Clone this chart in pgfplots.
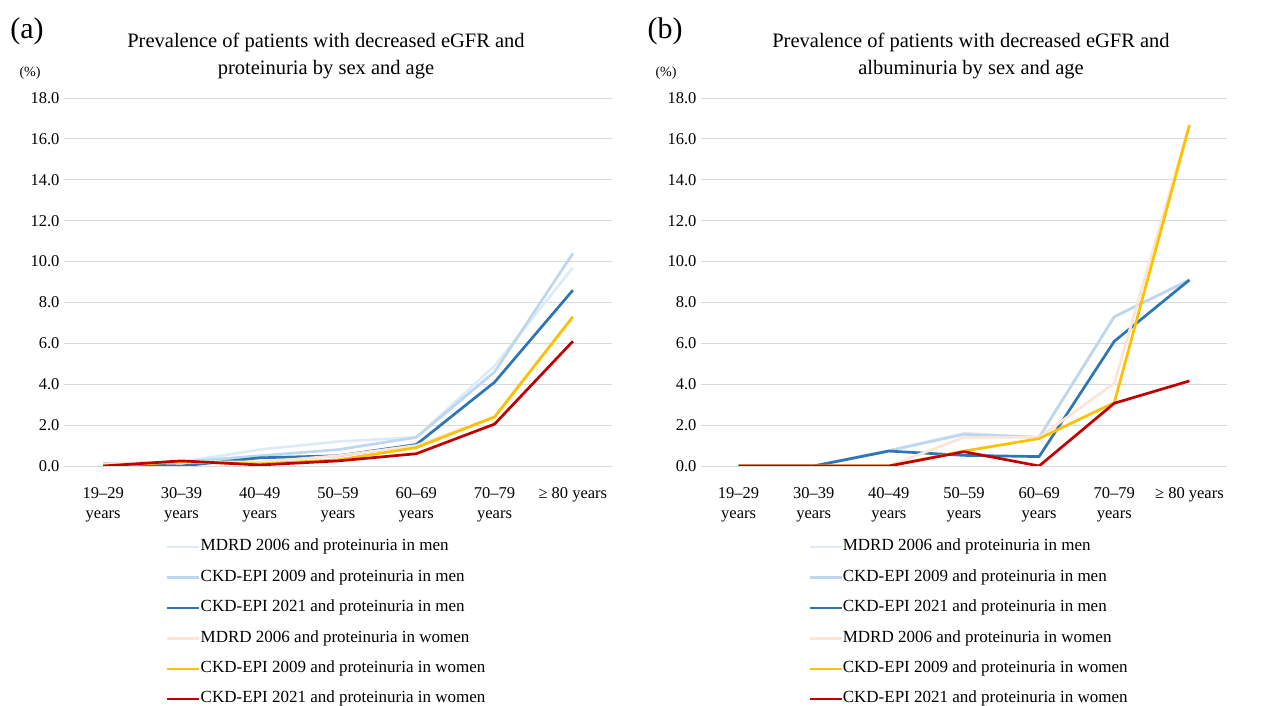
\documentclass[border=0pt]{standalone}
\usepackage{pgfplots}
\pgfplotsset{compat=1.18}
\usepackage{fontspec}
\setmainfont{Liberation Serif}
\definecolor{c1}{HTML}{DEEBF7}
\definecolor{c2}{HTML}{BDD7EE}
\definecolor{c3}{HTML}{2E75B6}
\definecolor{c4}{HTML}{FBE5D6}
\definecolor{c5}{HTML}{FFC000}
\definecolor{c6}{HTML}{C00000}
\definecolor{gridc}{HTML}{D9D9D9}
\pgfplotsset{
  panel/.style={
    scale only axis,
    anchor=south west,
    ymin=0, ymax=18, ytick={0,2,...,18},
    xmin=-0.5, xmax=6.5, xtick={0,...,6},
    xticklabels={{19–29\\years},{30–39\\years},{40–49\\years},{50–59\\years},{60–69\\years},{70–79\\years},{≥ 80 years}},
    axis line style={draw=none},
    major tick length=0pt,
    ymajorgrids,
    grid style={gridc, line width=0.9pt},
    /pgf/number format/.cd, fixed, fixed zerofill, precision=1, assume math mode=true,
    /pgfplots/.cd,
    yticklabel style={font=\fontsize{16.5}{18}\selectfont, xshift=-1pt},
    xticklabel style={font=\fontsize{16.5}{20}\selectfont, align=center, yshift=-18pt, anchor=north},
    every axis plot/.append style={line width=2.7pt, no markers, line join=round},
    legend cell align=left,
    legend style={draw=none, fill=none, font=\fontsize{17}{18}\selectfont, row sep=15.9pt,
      nodes={inner xsep=0pt, inner ysep=0pt, text height=11pt, text depth=3.5pt}},
    legend image code/.code={\draw[#1, line width=2.5pt] (0pt,0pt) -- (32pt,0pt);},
  }
}
\begin{document}
\begin{tikzpicture}[x=1pt,y=1pt]
\useasboundingbox (0,0) rectangle (1279,706);
% Panel (a)
\begin{axis}[panel, at={(64pt,240pt)}, width=548pt, height=368pt,
  legend style={at={(axis description cs:0.1807,-0.195)}, anchor=north west}]
\addplot[c1] coordinates {(0,0.1) (1,0.2) (2,0.8) (3,1.2) (4,1.4) (5,4.9) (6,9.7)};
\addplot[c2] coordinates {(0,0.1) (1,0.2) (2,0.5) (3,0.8) (4,1.4) (5,4.6) (6,10.4)};
\addplot[c3] coordinates {(0,0.1) (1,0.0) (2,0.4) (3,0.5) (4,1.05) (5,4.1) (6,8.6)};
\addplot[c4] coordinates {(0,0.1) (1,0.2) (2,0.2) (3,0.5) (4,1.0) (5,2.4) (6,7.3)};
\addplot[c5] coordinates {(0,0.0) (1,0.2) (2,0.1) (3,0.3) (4,0.9) (5,2.4) (6,7.3)};
\addplot[c6] coordinates {(0,0.0) (1,0.25) (2,0.05) (3,0.25) (4,0.6) (5,2.05) (6,6.1)};
\legend{MDRD 2006 and proteinuria in men, CKD-EPI 2009 and proteinuria in men, CKD-EPI 2021 and proteinuria in men, MDRD 2006 and proteinuria in women, CKD-EPI 2009 and proteinuria in women, CKD-EPI 2021 and proteinuria in women}
\end{axis}
% Panel (b)
\begin{axis}[panel, at={(701pt,240pt)}, width=526pt, height=368pt,
  legend style={at={(axis description cs:0.198,-0.195)}, anchor=north west}]
\addplot[c1] coordinates {(0,0) (1,0) (2,0.75) (3,1.6) (4,1.4) (5,7.3) (6,9.1)};
\addplot[c2] coordinates {(0,0) (1,0) (2,0.75) (3,1.55) (4,1.4) (5,7.3) (6,9.1)};
\addplot[c3] coordinates {(0,0) (1,0) (2,0.73) (3,0.52) (4,0.46) (5,6.1) (6,9.1)};
\addplot[c4] coordinates {(0,0) (1,0) (2,0) (3,1.4) (4,1.4) (5,4.05) (6,16.7)};
\addplot[c5] coordinates {(0,0) (1,0) (2,0) (3,0.73) (4,1.34) (5,3.1) (6,16.67)};
\addplot[c6] coordinates {(0,0) (1,0) (2,0) (3,0.7) (4,0) (5,3.07) (6,4.16)};
\legend{MDRD 2006 and proteinuria in men, CKD-EPI 2009 and proteinuria in men, CKD-EPI 2021 and proteinuria in men, MDRD 2006 and proteinuria in women, CKD-EPI 2009 and proteinuria in women, CKD-EPI 2021 and proteinuria in women}
\end{axis}
% Titles and labels
\node[font=\fontsize{20.5}{27}\selectfont, align=center, anchor=center] at (326,650) {Prevalence of patients with decreased eGFR and\\proteinuria by sex and age};
\node[font=\fontsize{20.5}{27}\selectfont, align=center, anchor=center] at (971,650) {Prevalence of patients with decreased eGFR and\\albuminuria by sex and age};
\node[font=\fontsize{30}{32}\selectfont, anchor=center] at (27,675) {(a)};
\node[font=\fontsize{30}{32}\selectfont, anchor=center] at (665,675) {(b)};
\node[font=\fontsize{14}{16}\selectfont, anchor=center] at (30,633) {(\%)};
\node[font=\fontsize{14}{16}\selectfont, anchor=center] at (666,633) {(\%)};
\end{tikzpicture}
\end{document}
